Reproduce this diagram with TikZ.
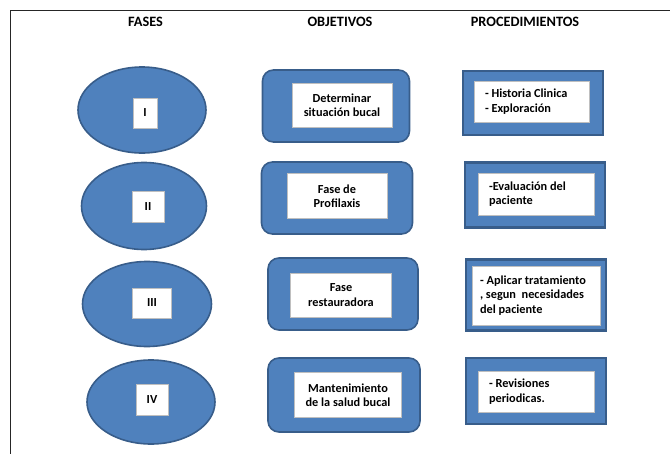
\documentclass[tikz,border=0pt]{standalone}
\usepackage{fontspec}
\setmainfont{Carlito}[BoldFont={Carlito Bold}]
\usetikzlibrary{shapes.geometric}
\definecolor{officeblue}{HTML}{4F81BD}
\definecolor{officedark}{HTML}{385D8A}

\begin{document}
\begin{tikzpicture}[x=1pt, y=-1pt,
  fase/.style={draw=officedark, fill=officeblue, ellipse, line width=1.6pt, inner sep=0},
  objetivo/.style={draw=officedark, fill=officeblue, rounded corners=11pt, line width=1.6pt, inner sep=0},
  proc/.style={draw=officedark, fill=officeblue, line width=2.6pt, inner sep=0},
  caja/.style={draw=black!25, fill=white, line width=0.7pt, font=\fontsize{12.3}{14.5}\selectfont\bfseries},
  titulo/.style={font=\fontsize{14.3}{16}\selectfont\bfseries}]
\useasboundingbox (0,0) rectangle (670,455);
% Frame
\draw[black!85, line width=0.9pt] (10.5,10) -- (670,10);
\draw[black!85, line width=0.9pt] (10.5,10) -- (10.5,454);
% Titles
\node[titulo] (t1) at (145.5,21.5) {FASES};
\node[titulo] (t2) at (340,21.5) {OBJETIVOS};
\node[titulo] (t3) at (525,21.5) {PROCEDIMIENTOS};
% Fases
\node[fase, minimum width=128, minimum height=86] (f1) at (142,110) {};
\node[fase, minimum width=125, minimum height=87] (f2) at (144,206) {};
\node[fase, minimum width=129, minimum height=85] (f3) at (147,304) {};
\node[fase, minimum width=128, minimum height=84] (f4) at (151,402) {};
\node[caja, minimum width=24, minimum height=30, inner sep=0] (n1) at (145,113) {I};
\node[caja, minimum width=32, minimum height=31, inner sep=0] (n2) at (148,207) {II};
\node[caja, minimum width=39, minimum height=30, inner sep=0] (n3) at (152,303) {III};
\node[caja, minimum width=32, minimum height=31, inner sep=0] (n4) at (152,400) {IV};
% Objetivos
\node[objetivo, minimum width=147, minimum height=72] (o1) at (336,106) {};
\node[objetivo, minimum width=151, minimum height=72] (o2) at (337,198) {};
\node[objetivo, minimum width=150, minimum height=72] (o3) at (343,294) {};
\node[objetivo, minimum width=152, minimum height=74] (o4) at (344,395) {};
\node[caja, align=center, minimum width=100, minimum height=44, inner sep=0] (ot1) at (342,105) {Determinar\\situación bucal};
\node[caja, align=center, minimum width=100, minimum height=45, inner sep=0] (ot2) at (337,196) {Fase de\\Profilaxis};
\node[caja, align=center, minimum width=101, minimum height=44, inner sep=0] (ot3) at (341,295) {Fase\\restauradora};
\node[caja, align=center, minimum width=107, minimum height=45, inner sep=0] (ot4) at (348,395) {Mantenimiento\\de la salud bucal};
% Procedimientos
\node[proc, minimum width=140, minimum height=64] (p1) at (533,103) {};
\node[proc, minimum width=140, minimum height=65] (p2) at (535,195) {};
\node[proc, minimum width=140, minimum height=71] (p3) at (536,295) {};
\node[proc, minimum width=140, minimum height=66] (p4) at (536,391) {};
\node[caja, align=flush left, text width=93, inner xsep=11, minimum height=41] (pt1) at (531.5,101.5) {- Historia Clinica\\- Exploración};
\node[caja, align=flush left, text width=94, inner xsep=11, minimum height=42] (pt2) at (536,194) {-Evaluación del\\paciente};
\node[caja, align=flush left, text width=112, inner xsep=8, minimum height=59] (pt3) at (536,295.5) {- Aplicar tratamiento\\, segun~ necesidades\\del paciente};
\node[caja, align=flush left, text width=94, inner xsep=11, minimum height=41] (pt4) at (536,391.5) {- Revisiones\\periodicas.};
\end{tikzpicture}
\end{document}
